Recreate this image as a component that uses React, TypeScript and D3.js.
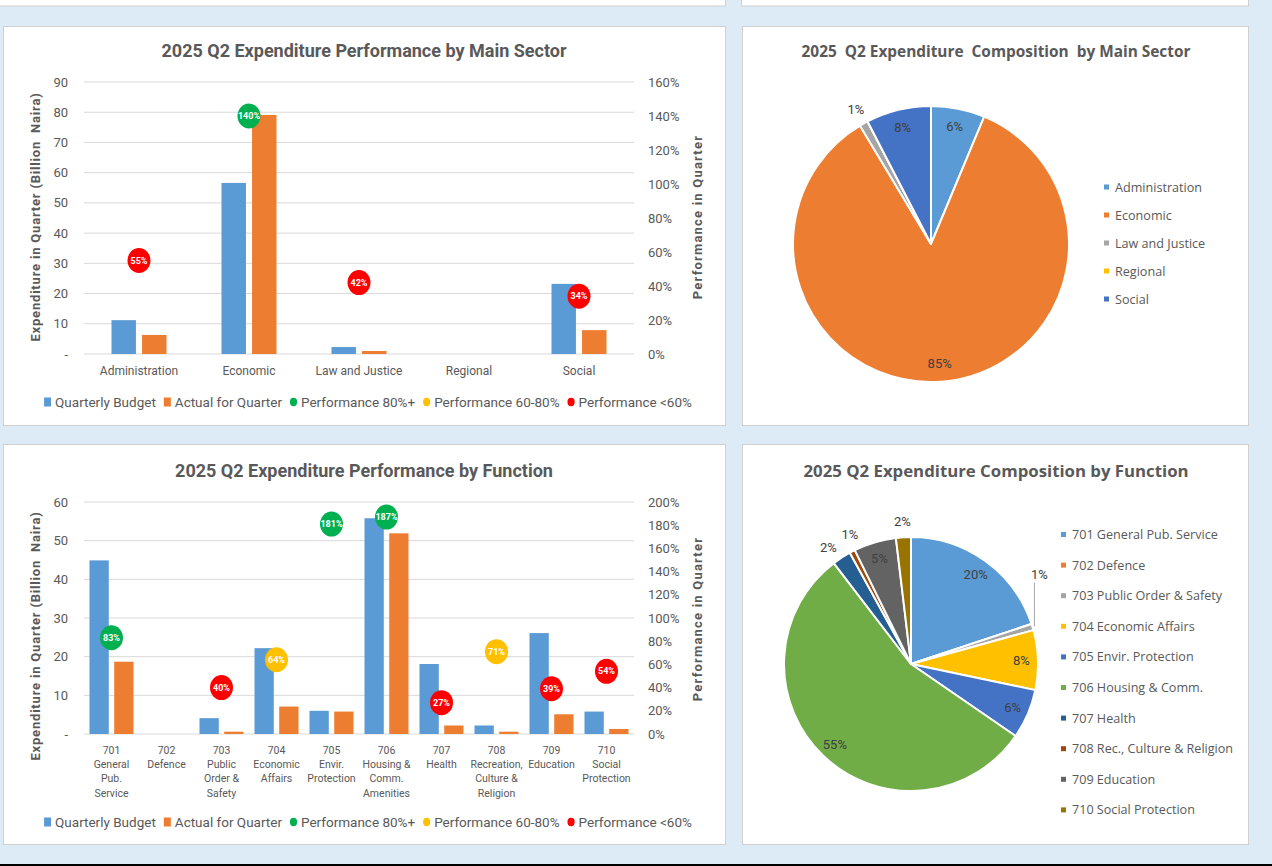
import React from "react";
import * as d3 from "d3";

// ---- data: main sector ----
const sectors = ["Administration", "Economic", "Law and Justice", "Regional", "Social"];
const sectorBudget = [11.2, 56.6, 2.3, 0, 23.2];
const sectorActual = [6.3, 79.1, 1.0, 0, 7.9];
const sectorPerf = [55, 140, 42, null, 34];
const sectorShare = [6.3, 85.1, 1.0, 0, 7.6];
const sectorColors = ["#5B9BD5", "#ED7D31", "#A5A5A5", "#FFC000", "#4472C4"];

// ---- data: function ----
const functionLabels = [
  ["701", "General", "Pub.", "Service"],
  ["702", "Defence"],
  ["703", "Public", "Order &", "Safety"],
  ["704", "Economic", "Affairs"],
  ["705", "Envir.", "Protection"],
  ["706", "Housing &", "Comm.", "Amenities"],
  ["707", "Health"],
  ["708", "Recreation,", "Culture &", "Religion"],
  ["709", "Education"],
  ["710", "Social", "Protection"],
];
const functionBudget = [44.9, 0, 4.1, 22.2, 6.0, 55.8, 18.1, 2.2, 26.1, 5.8];
const functionActual = [18.7, 0, 0.6, 7.1, 5.8, 51.9, 2.2, 0.6, 5.1, 1.3];
const functionPerf = [83, null, 40, 64, 181, 187, 27, 71, 39, 54];
const functionShare = [19.9, 0, 0.8, 7.6, 6.3, 55.0, 2.4, 0.7, 5.4, 1.9];
const functionLegend = [
  "701 General Pub. Service",
  "702 Defence",
  "703 Public Order & Safety",
  "704 Economic Affairs",
  "705 Envir. Protection",
  "706 Housing & Comm.",
  "707 Health",
  "708 Rec., Culture & Religion",
  "709 Education",
  "710 Social Protection",
];
const functionColors = ["#5B9BD5", "#ED7D31", "#A5A5A5", "#FFC000", "#4472C4", "#70AD47", "#255E91", "#9E480E", "#636363", "#997300"];

const legendItems = [
  { kind: "rect", color: "#5B9BD5", label: "Quarterly Budget" },
  { kind: "rect", color: "#ED7D31", label: "Actual for Quarter" },
  { kind: "dot", color: "#00B050", label: "Performance 80%+" },
  { kind: "dot", color: "#FFC000", label: "Performance 60-80%" },
  { kind: "dot", color: "#FF0000", label: "Performance <60%" },
];

const BG = "#DDEBF7";
const TEXT = "#595959";
const GRID = "#D9D9D9";
const BAR_FONT = "Roboto, sans-serif";
const PIE_FONT = "'Open Sans', sans-serif";

const perfColor = (p: number) => (p >= 80 ? "#00B050" : p >= 60 ? "#FFC000" : "#FF0000");

const ctx = document.createElement("canvas").getContext("2d") as CanvasRenderingContext2D;
const textWidth = (t: string, font: string) => {
  ctx.font = font;
  return ctx.measureText(t).width;
};

function Panel({ x, y, w, h }: any) {
  return <rect x={x + 0.5} y={y + 0.5} width={w} height={h} fill="#fff" stroke="#D0D0D0" strokeWidth={1} />;
}

function BarChart({ title, labels, budget, actual, perf, yMax, yStep, pMax, pStep, box }: any) {
  const x = d3.scaleBand<number>().domain(d3.range(labels.length)).range([box.left, box.right]);
  const inner = d3.scaleBand<string>().domain(["budget", "actual"]).range([-box.groupW / 2, box.groupW / 2]).paddingInner(box.gap);
  const y = d3.scaleLinear().domain([0, yMax]).range([box.bottom, box.top]);
  const p = d3.scaleLinear().domain([0, pMax]).range([box.bottom, box.top]);
  const yTicks = d3.range(0, yMax + yStep / 2, yStep);
  const pTicks = d3.range(0, pMax + pStep / 2, pStep);
  const cx = (i: number) => (x(i) as number) + x.bandwidth() / 2;

  const legendSize = 13.5;
  const legendFont = `${legendSize}px ${BAR_FONT}`;
  const widths = legendItems.map((d) => 11 + textWidth(d.label, legendFont));
  const total = d3.sum(widths) + 8 * (widths.length - 1);
  let lx = 368 - total / 2;
  const legend = legendItems.map((d, i) => {
    const g = { ...d, x: lx };
    lx += widths[i] + 8;
    return g;
  });

  return (
    <g fontFamily={BAR_FONT} fill={TEXT}>
      <text x={364} y={box.titleY} textAnchor="middle" dominantBaseline="central" fontSize={18} fontWeight="bold">
        {title}
      </text>
      {yTicks.map((t: number) => (
        <line key={"g" + t} x1={box.left} x2={box.right} y1={y(t)} y2={y(t)} stroke={GRID} strokeWidth={1} />
      ))}
      {yTicks.map((t: number) => (
        <text key={"l" + t} x={68} y={y(t)} textAnchor="end" dominantBaseline="central" fontSize={13}>
          {t === 0 ? "-" : t}
        </text>
      ))}
      {pTicks.map((t: number) => (
        <text key={"r" + t} x={648} y={p(t)} dominantBaseline="central" fontSize={13}>
          {t + "%"}
        </text>
      ))}
      <text transform={`translate(35,${box.leftTitleY}) rotate(-90)`} textAnchor="middle" dominantBaseline="central" fontSize={13} fontWeight="bold" letterSpacing={0.8}>
        Expenditure in Quarter (Billion{"\u00a0 "}Naira)
      </text>
      <text transform={`translate(697,${box.rightTitleY}) rotate(-90)`} textAnchor="middle" dominantBaseline="central" fontSize={13} fontWeight="bold" letterSpacing={1.2}>
        Performance in Quarter
      </text>
      {labels.map((lines: string[], i: number) => (
        <g key={"b" + i}>
          <rect x={cx(i) + (inner("budget") as number)} y={y(budget[i])} width={inner.bandwidth()} height={y(0) - y(budget[i])} fill="#5B9BD5" />
          <rect x={cx(i) + (inner("actual") as number)} y={y(actual[i])} width={inner.bandwidth()} height={y(0) - y(actual[i])} fill="#ED7D31" />
        </g>
      ))}
      {labels.map((lines: string[], i: number) =>
        perf[i] == null ? null : (
          <g key={"p" + i}>
            <ellipse cx={cx(i)} cy={p(perf[i])} rx={11.5} ry={12.5} fill={perfColor(perf[i])} />
            <text x={cx(i)} y={p(perf[i])} textAnchor="middle" dominantBaseline="central" fontSize={9} fontWeight="bold" fill="#fff">
              {perf[i] + "%"}
            </text>
          </g>
        )
      )}
      {labels.map((lines: string[], i: number) => (
        <text key={"x" + i} x={cx(i)} textAnchor="middle" fontSize={box.labelSize}>
          {lines.map((s, j) => (
            <tspan key={j} x={cx(i)} y={box.labelY + j * box.lineH} dominantBaseline="central">
              {s}
            </tspan>
          ))}
        </text>
      ))}
      {legend.map((d) => (
        <g key={d.label}>
          {d.kind === "rect" ? (
            <rect x={d.x} y={box.legendY - 4.5} width={7} height={9} fill={d.color} />
          ) : (
            <ellipse cx={d.x + 3.5} cy={box.legendY} rx={3.6} ry={4.2} fill={d.color} />
          )}
          <text x={d.x + 11} y={box.legendY} dominantBaseline="central" fontSize={legendSize}>
            {d.label}
          </text>
        </g>
      ))}
    </g>
  );
}

function PieChart({ title, names, values, colors, box }: any) {
  const pie = d3.pie<number>().sort(null).value((d) => d);
  const arcs = pie(values);
  const arc = d3.arc<d3.PieArcDatum<number>>().innerRadius(0).outerRadius(box.r);
  const total = d3.sum(values);

  // work out label placement: inside, outside (radial), or lifted with a leader line
  const labels = arcs.map((a, i) => {
    const share = (a.value / total) * 100;
    const mid = (a.startAngle + a.endAngle) / 2;
    let kind = "none";
    if (share > 0) kind = share >= 3 ? "inside" : mid < Math.PI / 2 || (mid < Math.PI && share < 1.5) ? "leader" : "outside";
    return { i, share, mid, angle: mid, kind, text: Math.round(share) + "%" };
  });
  const outside = labels.filter((d) => d.kind === "outside");
  const minSep = (10 * Math.PI) / 180;
  for (let k = 1; k < outside.length; k++) {
    const a = outside[k - 1], b = outside[k];
    if (b.angle - a.angle < minSep) {
      const c = (a.angle + b.angle) / 2;
      a.angle = c - minSep / 2;
      b.angle = c + minSep / 2;
    }
  }

  return (
    <g>
      <text x={box.titleX} y={box.titleY} textAnchor="middle" dominantBaseline="central" fontFamily={PIE_FONT} fontSize={box.titleSize} fontWeight="bold" fill={TEXT} style={{ whiteSpace: "pre" }}>
        {title}
      </text>
      <g transform={`translate(${box.cx},${box.cy})`}>
        {arcs.map((a, i) => (
          <path key={i} d={arc(a) as string} fill={colors[i]} stroke="#fff" strokeWidth={2} strokeLinejoin="round" />
        ))}
        {labels.map((d) => {
          if (d.kind === "none") return null;
          if (d.kind === "inside") {
            const rr = box.r * 0.87;
            return (
              <text key={"t" + d.i} x={rr * Math.sin(d.angle)} y={-rr * Math.cos(d.angle)} textAnchor="middle" dominantBaseline="central" fontFamily={BAR_FONT} fontSize={13} fill="#404040">
                {d.text}
              </text>
            );
          }
          if (d.kind === "leader") {
            const ex = (box.r + 2) * Math.sin(d.mid);
            const ey = -(box.r + 2) * Math.cos(d.mid);
            return (
              <g key={"t" + d.i}>
                <line x1={ex} y1={ey} x2={ex} y2={ey - 44} stroke="#A6A6A6" strokeWidth={1} />
                <text x={ex + 5} y={ey - 52} textAnchor="middle" dominantBaseline="central" fontFamily={BAR_FONT} fontSize={13} fill="#404040">
                  {d.text}
                </text>
              </g>
            );
          }
          const ro = box.r + 16;
          return (
            <text key={"t" + d.i} x={ro * Math.sin(d.angle)} y={-ro * Math.cos(d.angle)} textAnchor="middle" dominantBaseline="central" fontFamily={BAR_FONT} fontSize={13} fill="#404040">
              {d.text}
            </text>
          );
        })}
      </g>
      {names.map((n: string, i: number) => (
        <g key={n}>
          <rect x={box.legendX} y={box.legendY + i * box.legendStep - 2.5} width={5} height={5} fill={colors[i]} />
          <text x={box.legendX + 11} y={box.legendY + i * box.legendStep} dominantBaseline="central" fontFamily={PIE_FONT} fontSize={12.6} fill={TEXT}>
            {n}
          </text>
        </g>
      ))}
    </g>
  );
}

export default function App() {
  return (
    <div style={{ position: "absolute", left: 0, top: 0, width: 1272, height: 866, overflow: "hidden" }}>
      <svg width={1272} height={866} viewBox="0 0 1272 866" style={{ display: "block" }}>
        <rect width={1272} height={866} fill={BG} />
        <Panel x={-2} y={-10} w={727} h={15.5} />
        <Panel x={741} y={-10} w={507} h={15.5} />
        <Panel x={3} y={26} w={722} h={399} />
        <Panel x={742} y={26} w={506} h={399} />
        <Panel x={3} y={444} w={722} h={400} />
        <Panel x={742} y={444} w={506} h={400} />
        <rect x={0} y={864} width={1272} height={2} fill="#000" />

        <BarChart
          title="2025 Q2 Expenditure Performance by Main Sector"
          labels={sectors.map((s) => [s])}
          budget={sectorBudget}
          actual={sectorActual}
          perf={sectorPerf}
          yMax={90}
          yStep={10}
          pMax={160}
          pStep={20}
          box={{ left: 84, right: 634, top: 82, bottom: 354, titleY: 50, leftTitleY: 217, rightTitleY: 217, labelY: 371, lineH: 14.3, labelSize: 12, legendY: 402, groupW: 55, gap: 0.2 }}
        />
        <BarChart
          title="2025 Q2 Expenditure Performance by Function"
          labels={functionLabels}
          budget={functionBudget}
          actual={functionActual}
          perf={functionPerf}
          yMax={60}
          yStep={10}
          pMax={200}
          pStep={20}
          box={{ left: 84, right: 634, top: 502, bottom: 734, titleY: 470, leftTitleY: 636, rightTitleY: 619, labelY: 750, lineH: 14.4, labelSize: 10.5, legendY: 822, groupW: 44, gap: 0.22 }}
        />
        <PieChart
          title={"2025  Q2 Expenditure  Composition  by Main Sector"}
          names={sectors}
          values={sectorShare}
          colors={sectorColors}
          box={{ cx: 931, cy: 244, r: 138, titleX: 996, titleY: 51, titleSize: 15.4, legendX: 1104, legendY: 187, legendStep: 28 }}
        />
        <PieChart
          title="2025 Q2 Expenditure Composition by Function"
          names={functionLegend}
          values={functionShare}
          colors={functionColors}
          box={{ cx: 911, cy: 664, r: 127, titleX: 996, titleY: 470, titleSize: 16.8, legendX: 1061, legendY: 534.5, legendStep: 30.6 }}
        />
      </svg>
    </div>
  );
}
